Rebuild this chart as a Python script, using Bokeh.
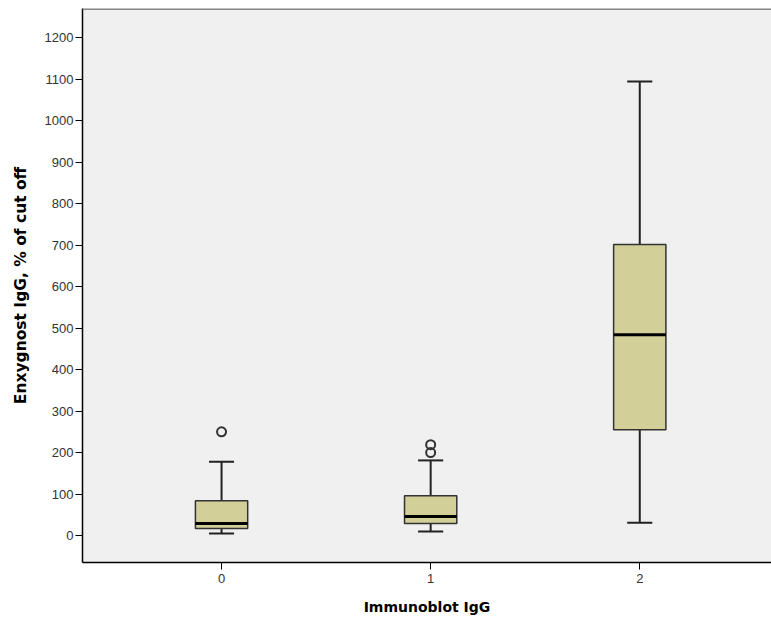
from bokeh.plotting import figure
from bokeh.models import Range1d, FixedTicker, ColumnDataSource, Span
from bokeh.embed import file_html
from bokeh.resources import INLINE

categories = [0, 1, 2]
lower = [5, 10, 31]
q1 = [17, 29, 255]
median = [29, 46, 484]
q3 = [84, 96, 701]
upper = [178, 181, 1094]
outlier_cat = [0, 1, 1]
outlier_val = [250, 219, 200]
y_ticks = [0, 100, 200, 300, 400, 500, 600, 700, 800, 900, 1000, 1100, 1200]

box_w = 0.25
cap_w = 0.12

src = ColumnDataSource(dict(
    x=categories, lower=lower, q1=q1, median=median, q3=q3, upper=upper,
    cl=[c - cap_w / 2 for c in categories], cr=[c + cap_w / 2 for c in categories],
    bl=[c - box_w / 2 for c in categories], br=[c + box_w / 2 for c in categories],
))

p = figure(width=771, height=623, output_backend="svg", toolbar_location=None,
           x_range=Range1d(-0.665, 2.63), y_range=Range1d(-65, 1270),
           min_border_left=82, min_border_right=0, min_border_top=8, min_border_bottom=61)

p.background_fill_color = "#F0F0F0"
p.border_fill_color = "white"
p.outline_line_color = None
p.xgrid.visible = False
p.ygrid.visible = False
p.add_layout(Span(location=1270, dimension="width", line_color="#888888", line_width=3))

# whiskers
p.segment(x0="x", y0="q3", x1="x", y1="upper", source=src, line_color="#222222", line_width=2)
p.segment(x0="x", y0="lower", x1="x", y1="q1", source=src, line_color="#222222", line_width=2)
p.segment(x0="cl", y0="upper", x1="cr", y1="upper", source=src, line_color="#222222", line_width=2)
p.segment(x0="cl", y0="lower", x1="cr", y1="lower", source=src, line_color="#222222", line_width=2)
# boxes
p.vbar(x="x", width=box_w, bottom="q1", top="q3", source=src,
       fill_color="#D3CF99", line_color="#333333", line_width=1.5)
# median
p.segment(x0="bl", y0="median", x1="br", y1="median", source=src, line_color="black", line_width=3)
# outliers
p.scatter(outlier_cat, outlier_val, size=9, marker="circle", fill_color=None,
          line_color="#333333", line_width=2)

p.yaxis.ticker = FixedTicker(ticks=y_ticks)
p.xaxis.ticker = FixedTicker(ticks=categories)
p.yaxis.minor_tick_line_color = None
p.xaxis.minor_tick_line_color = None

for ax in (p.xaxis[0], p.yaxis[0]):
    ax.axis_line_color = "black"
    ax.axis_line_width = 1.5
    ax.major_tick_line_color = "black"
    ax.major_tick_line_width = 1
    ax.major_tick_in = 0
    ax.major_tick_out = 7
    ax.major_label_text_font = "Liberation Sans"
    ax.major_label_text_font_size = "13px"
    ax.major_label_text_color = "#333333"
    ax.axis_label_text_font = "DejaVu Sans"
    ax.axis_label_text_font_style = "bold"
    ax.axis_label_text_color = "black"

p.xaxis.axis_label_text_font_size = "14px"
p.yaxis.axis_label_text_font_size = "15.5px"
p.xaxis.axis_label = "Immunoblot IgG"
p.yaxis.axis_label = "Enxygnost IgG, % of cut off"
p.yaxis.major_label_standoff = 2
p.xaxis.major_label_standoff = 4
p.xaxis.axis_label_standoff = 13
p.yaxis.axis_label_standoff = 12

open("out.html", "w").write(file_html(p, INLINE))
